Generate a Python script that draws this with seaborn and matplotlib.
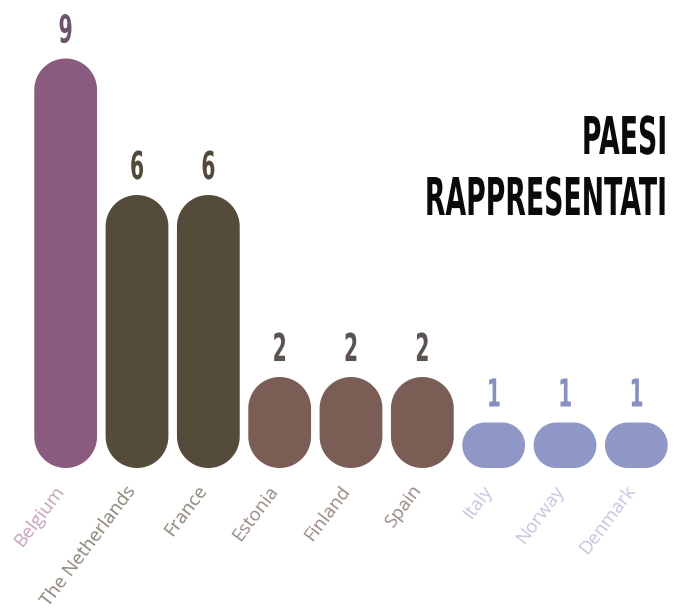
import matplotlib
matplotlib.use("Agg")
import numpy as np
import matplotlib.pyplot as plt
import seaborn as sns
import pandas as pd
from matplotlib.patches import Polygon
from matplotlib.patheffects import AbstractPathEffect
from matplotlib.transforms import Affine2D, ScaledTranslation

# ---- data -------------------------------------------------------------
countries = ["Belgium", "The Netherlands", "France", "Estonia", "Finland",
             "Spain", "Italy", "Norway", "Denmark"]
counts = [9, 6, 6, 2, 2, 2, 1, 1, 1]
title_lines = ["PAESI", "RAPPRESENTATI"]

# ---- style ------------------------------------------------------------
bar_colors = ["#8a5b7e", "#554b3a", "#554b3a", "#7a5e56", "#7a5e56",
              "#7a5e56", "#8e97c6", "#8e97c6", "#8e97c6"]
value_colors = ["#6e5468", "#52493c", "#52493c", "#5b5350", "#5b5350",
                "#5b5350", "#8890c0", "#8890c0", "#8890c0"]
label_colors = ["#c6a2b9", "#8c8577", "#8c8577", "#9a8a84", "#9a8a84",
                "#9a8a84", "#c3c7e2", "#c3c7e2", "#c3c7e2"]

sns.set_theme(style="white")
plt.rcParams["font.family"] = ["Open Sans", "DejaVu Sans"]


class Condensed(AbstractPathEffect):
    """Squeeze glyphs horizontally and stretch them vertically.

    The horizontal scaling is done about a fraction `anchor` of the ink
    extent (0 = left, 0.5 = centre, 1 = right) so the text alignment holds.
    """

    def __init__(self, sx, sy, anchor=0.5):
        super().__init__()
        self._sx, self._sy, self._anchor = sx, sy, anchor

    def draw_path(self, renderer, gc, tpath, affine, rgbFace=None):
        ext = tpath.get_extents()
        xa = ext.x0 + self._anchor * ext.width
        squeeze = (Affine2D().translate(-xa, 0)
                   .scale(self._sx, self._sy).translate(xa, 0))
        renderer.draw_path(gc, tpath, squeeze + affine, rgbFace)


def pill(x0, w, h, rx, ry, n=24):
    """Outline of a bar with elliptical-arc ends (circular on screen)."""
    t = np.linspace(0, np.pi / 2, n)
    xl, xr = x0 + rx, x0 + w - rx
    yb, yt = ry, h - ry
    pts = []
    pts += list(zip(xr + rx * np.cos(t), yt + ry * np.sin(t)))             # top right
    pts += list(zip(xl - rx * np.sin(t), yt + ry * np.cos(t)))             # top left
    pts += list(zip(xl - rx * np.cos(t), yb - ry * np.sin(t)))             # bottom left
    pts += list(zip(xr + rx * np.sin(t), yb - ry * np.cos(t)))             # bottom right
    return np.array(pts)


W, H = 679, 614
fig = plt.figure(figsize=(W / 100, H / 100), dpi=100)
ax = fig.add_axes([30 / W, (H - 468) / H, 642 / W, 455 / H])

df = pd.DataFrame({"country": countries, "count": counts})
sns.barplot(data=df, x="country", y="count", hue="country",
            palette=bar_colors, width=0.88, legend=False, ax=ax,
            saturation=1)

ax.set_xlim(-0.5, len(countries) - 0.5)
ax.set_ylim(0, 10)

# pixels per data unit, used to give the bars circular ends
px_x = ax.transData.transform((1, 0))[0] - ax.transData.transform((0, 0))[0]
px_y = ax.transData.transform((0, 1))[1] - ax.transData.transform((0, 0))[1]

for patch in list(ax.patches):
    x0, y0 = patch.get_x(), patch.get_y()
    w, h = patch.get_width(), patch.get_height()
    color = patch.get_facecolor()
    patch.remove()
    r_px = min(w * px_x, h * px_y) / 2
    outline = pill(x0, w, h, r_px / px_x, r_px / px_y)
    outline[:, 1] += y0
    ax.add_patch(Polygon(outline, closed=True, facecolor=color,
                         edgecolor="none"))

# value labels above each bar
for i, (v, c) in enumerate(zip(counts, value_colors)):
    ax.annotate(str(v), xy=(i, v), xytext=(0, 11.5), textcoords="offset points",
                ha="center", va="baseline", fontsize=21, fontweight="bold",
                color=c, family="DejaVu Sans",
                path_effects=[Condensed(0.7, 1.32, 0.5)])

# slanted category labels, hung just below and left of each bar centre
ax.set_xticks([])
ax.set_yticks([])
ax.set_xlabel("")
ax.set_ylabel("")
label_offset = ScaledTranslation(-12 / 100, -14 / 100, fig.dpi_scale_trans)
for i, (name, c) in enumerate(zip(countries, label_colors)):
    ax.text(i, 0, name, transform=ax.get_xaxis_transform() + label_offset,
            rotation=53, rotation_mode="anchor", ha="right", va="top",
            fontsize=13.5, color=c)
sns.despine(ax=ax, left=True, bottom=True)

# title, right aligned
for line, y_px in zip(title_lines, [154, 215]):
    fig.text(668 / W, 1 - y_px / H, line, ha="right", va="baseline",
             fontsize=25, fontweight="bold", color="#0a0a0a",
             family="DejaVu Sans",
             path_effects=[Condensed(0.77, 1.5, 1.0)])

fig.savefig("out.png", dpi=100, facecolor="white")
